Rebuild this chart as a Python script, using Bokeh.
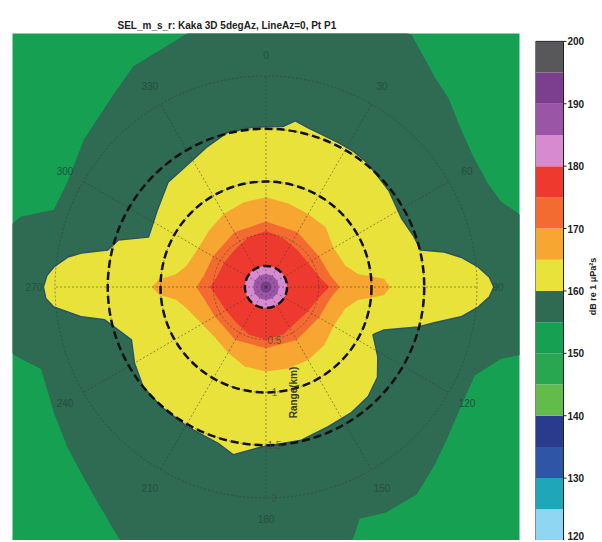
import numpy as np
from bokeh.plotting import figure
from bokeh.layouts import row
from bokeh.models import Range1d
from bokeh.embed import file_html
from bokeh.resources import INLINE
from bokeh.core.properties import value

TITLE = "SEL_m_s_r: Kaka 3D 5degAz, LineAz=0, Pt P1"
FONT = "Liberation Sans"

# colour levels (dB re 1 uPa^2 s) and the colour of each 5 dB band
levels = [120, 125, 130, 135, 140, 145, 150, 155, 160, 165, 170, 175, 180, 185, 190, 195, 200]
level_colors = ["#8fd6f2", "#1fa6b8", "#2f55a6", "#2a3a8c", "#62bb4a", "#2aa650", "#15a052", "#2f6a52",
                "#e8e23a", "#f6a631", "#f36b30", "#ee3a2e", "#d88ad0", "#9b55a6", "#7c3e8e", "#58585a"]
colorbar_ticks = [120, 130, 140, 150, 160, 170, 180, 190, 200]
colorbar_label = "dB re 1 μPa²s"

# contour boundaries: azimuth (deg, clockwise from up) and range (km)
c155_az = [0, 30, 39, 44, 50, 58, 65, 70, 74, 90, 105, 107, 113, 122, 130, 137, 144, 152, 158, 161,
           185, 210, 217, 223, 231, 239, 250, 255, 270, 284, 286, 290, 298, 309, 321, 329, 343]
c155_r = [2.90, 2.76, 2.55, 2.49, 2.39, 2.32, 2.32, 2.37, 2.50, 2.75, 2.49, 2.33, 2.15, 2.17, 2.24, 2.33,
          2.43, 2.42, 2.37, 2.53, 2.90, 2.77, 2.61, 2.51, 2.42, 2.34, 2.27, 2.48, 2.75, 2.48, 2.42, 2.14,
          2.13, 2.22, 2.32, 2.44, 2.52]

c160_az = [0, 6, 10, 15, 20, 27, 33, 39, 52, 63, 71, 76.6, 78.9, 81.3, 84.6, 87.5, 90, 92.5, 95.4, 98.7,
           102, 104.7, 110, 114, 122, 129, 137, 146, 156, 167, 182, 191, 197, 209, 221, 231, 240, 248.6,
           253.8, 258.5, 260.8, 264.6, 267, 270, 273, 275.4, 278.6, 280.4, 283.2, 287.6, 293, 305, 317,
           328, 337, 346, 355]
c160_r = [1.52, 1.53, 1.60, 1.56, 1.54, 1.53, 1.53, 1.52, 1.48, 1.44, 1.48, 1.51, 1.72, 1.87, 2.02, 2.12,
          2.16, 2.12, 2.02, 1.87, 1.63, 1.49, 1.19, 1.11, 1.25, 1.36, 1.42, 1.44, 1.45, 1.49, 1.52, 1.62,
          1.55, 1.52, 1.51, 1.50, 1.44, 1.37, 1.46, 1.56, 1.77, 2.02, 2.09, 2.11, 2.08, 2.02, 1.90, 1.78,
          1.54, 1.47, 1.21, 1.26, 1.36, 1.38, 1.44, 1.51, 1.52]

c165_az = [0, 15, 30, 45, 60, 75, 82, 86, 90, 94, 98, 105, 120, 135, 150, 165, 180, 195, 210, 225, 240,
           255, 262, 266, 270, 274, 278, 285, 300, 315, 330, 345]
c165_r = [0.85, 0.82, 0.80, 0.80, 0.74, 0.78, 0.88, 1.12, 1.18, 1.12, 0.88, 0.78, 0.74, 0.78, 0.80, 0.80,
          0.80, 0.78, 0.72, 0.68, 0.70, 0.78, 0.86, 1.02, 1.08, 1.02, 0.86, 0.78, 0.74, 0.76, 0.80, 0.83]

c170_az = [0, 30, 60, 80, 90, 100, 120, 150, 180, 210, 240, 260, 270, 280, 300, 330]
c170_r = [0.62, 0.60, 0.58, 0.62, 0.70, 0.62, 0.58, 0.58, 0.58, 0.58, 0.56, 0.60, 0.66, 0.60, 0.58, 0.60]

c175_az = [0, 20, 40, 60, 80, 90, 100, 120, 140, 160, 180, 200, 220, 240, 260, 270, 280, 300, 320, 340]
c175_r = [0.53, 0.49, 0.46, 0.46, 0.52, 0.60, 0.52, 0.46, 0.44, 0.48, 0.50, 0.48, 0.44, 0.44, 0.48, 0.53,
          0.48, 0.46, 0.46, 0.50]

# near-source contours (nearly circular), km
center_levels = [180, 185, 190]
center_radii = [0.20, 0.12, 0.05]

# polar grid
range_rings_km = [0.2, 1.0, 1.5]
grid_rings_km = [0.5, 1.0, 1.5, 2.0]
spoke_az = [0, 30, 60, 90, 120, 150, 180, 210, 240, 270, 300, 330]
angle_labels = ["0", "30", "60", "90", "120", "150", "180", "210", "240", "270", "300", "330"]
ring_labels = ["0.5", "1", "1.5", "2"]


def polar_xy(az, r):
    a = np.radians(np.asarray(az, dtype=float))
    r = np.asarray(r, dtype=float)
    return r * np.sin(a), r * np.cos(a)


def band_color(level):
    return level_colors[levels.index(level)]


HALF = 2.403
p = figure(width=531, height=540, x_range=Range1d(-HALF, HALF), y_range=Range1d(-HALF, HALF),
           toolbar_location=None, output_backend="svg", x_axis_location=None, y_axis_location=None,
           min_border_left=12, min_border_right=12, min_border_top=33, min_border_bottom=0, title=TITLE)
p.grid.visible = False
p.outline_line_color = None
p.background_fill_color = band_color(150)
p.border_fill_color = "white"
p.title.align = "left"
p.title.offset = 105
p.title.standoff = 6
p.title.text_font = FONT
p.title.text_font_size = "10px"
p.title.text_font_style = "bold"
p.title.text_color = "#222222"

for lev, az, r in [(155, c155_az, c155_r), (160, c160_az, c160_r), (165, c165_az, c165_r),
                   (170, c170_az, c170_r), (175, c175_az, c175_r)]:
    x, y = polar_xy(az, r)
    if lev == 160:
        p.patch(x, y, fill_color=band_color(lev), line_color="#2b5560", line_width=1.5)
    else:
        p.patch(x, y, fill_color=band_color(lev), line_color=None)

for lev, rad in zip(center_levels, center_radii):
    p.circle(x=0, y=0, radius=rad, fill_color=band_color(lev), line_color=None)

# grid spokes and rings (dotted)
sx, sy = polar_xy(spoke_az, [grid_rings_km[-1]] * len(spoke_az))
p.segment(x0=0, y0=0, x1=sx, y1=sy, line_color="#3a3a3a", line_alpha=0.5, line_width=1, line_dash="2 2")
p.circle(x=[0] * len(grid_rings_km), y=[0] * len(grid_rings_km), radius=grid_rings_km, fill_color=None,
         line_color="#3a3a3a", line_alpha=0.5, line_width=1, line_dash="2 2")

# dashed range rings
p.circle(x=[0] * len(range_rings_km), y=[0] * len(range_rings_km), radius=range_rings_km, fill_color=None,
         line_color="#111111", line_width=2.5, line_dash="8 4")

# angle labels (faint)
lx, ly = polar_xy(spoke_az, [2.2] * len(spoke_az))
p.text(x=lx, y=ly, text=angle_labels, text_font=value(FONT), text_font_size=value("10px"),
       text_align="center", text_baseline="middle", text_color="#24503f")

# ring labels and range label
rvals = [float(s) for s in ring_labels]
p.text(x=[0.08] * len(rvals), y=[-v for v in rvals], text=ring_labels, text_font=value(FONT),
       text_font_size=value("10px"), text_align="center", text_baseline="middle", text_color="#4a4a30",
       text_alpha=0.8)
p.text(x=[0.265], y=[-1.0], text=["Range(km)"], angle=np.pi / 2, text_font=value(FONT),
       text_font_size=value("10px"), text_font_style="bold", text_align="center", text_baseline="middle",
       text_color="#3a3a28")

# colour bar drawn as its own small figure
PX_PER_DB = 507.0 / (levels[-1] - levels[0])
BAR_W = 28.0
cb = figure(width=71, height=540, x_range=Range1d(0, 67.0 / BAR_W),
            y_range=Range1d(levels[0], levels[-1] + 8.0 / PX_PER_DB),
            toolbar_location=None, output_backend="svg", x_axis_location=None, y_axis_location=None,
            min_border_left=4, min_border_right=0, min_border_top=25, min_border_bottom=0)
cb.grid.visible = False
cb.outline_line_color = None
cb.border_fill_color = "white"
cb.background_fill_color = "white"
cb.quad(left=0, right=1, bottom=levels[:-1], top=levels[1:], fill_color=level_colors, line_color=None)
cb.quad(left=0, right=1, bottom=levels[0], top=levels[-1], fill_color=None, line_color="#222222",
        line_width=1)
cb.segment(x0=1, x1=1 + 3 / BAR_W, y0=colorbar_ticks, y1=colorbar_ticks, line_color="#222222")
cb.text(x=[1 + 4 / BAR_W] * len(colorbar_ticks), y=colorbar_ticks, text=[str(t) for t in colorbar_ticks],
        y_offset=[-5 if t == levels[0] else 0 for t in colorbar_ticks],
        text_font=value(FONT), text_font_size=value("10px"), text_font_style="bold",
        text_align="left", text_baseline="middle", text_color="#222222")
cb.text(x=[57.0 / BAR_W], y=[160.7], text=[colorbar_label], angle=np.pi / 2, text_font=value(FONT),
        text_font_size=value("9px"), text_font_style="bold", text_align="center", text_baseline="middle",
        text_color="#222222")

layout = row(p, cb)
open("out.html", "w").write(file_html(layout, INLINE))
